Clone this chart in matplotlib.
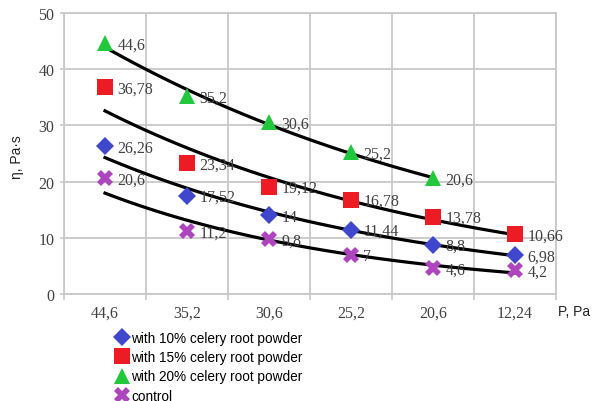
import matplotlib
matplotlib.use('Agg')
import matplotlib.pyplot as plt
import numpy as np

# pressure categories and viscosity values
pressure = ['44,6', '35,2', '30,6', '25,2', '20,6', '12,24']
visc_10 = [26.26, 17.52, 14, 11.44, 8.8, 6.98]
visc_15 = [36.78, 23.34, 19.12, 16.78, 13.78, 10.66]
visc_20 = [44.6, 35.2, 30.6, 25.2, 20.6]
visc_ctrl = [20.6, 11.2, 9.8, 7, 4.6, 4.2]

lbl_10 = ['26,26', '17,52', '14', '11,44', '8,8', '6,98']
lbl_15 = ['36,78', '23,34', '19,12', '16,78', '13,78', '10,66']
lbl_20 = ['44,6', '35,2', '30,6', '25,2', '20,6']
lbl_ctrl = ['20,6', '11,2', '9,8', '7', '4,6', '4,2']

serif = 'Liberation Serif'
sans = 'Liberation Sans'

fig = plt.figure(figsize=(6, 4.02), dpi=100)
ax = fig.add_axes([64/600, 1-295/402, 492/600, 281/402])

series = [
    (visc_10, lbl_10, 'D', '#3F47CC', 9.5, 'with 10% celery root powder'),
    (visc_15, lbl_15, 's', '#ED1C24', 11.5, 'with 15% celery root powder'),
    (visc_20, lbl_20, '^', '#22C83C', 11.5, 'with 20% celery root powder'),
    (visc_ctrl, lbl_ctrl, 'X', '#AE44BE', 11, 'control'),
]

handles = []
for vals, lbls, mk, col, ms, name in series:
    x = np.arange(1, len(vals) + 1)
    # exponential trendline fitted to the points
    b, lna = np.polyfit(x, np.log(vals), 1)
    xs = np.linspace(1, len(vals), 100)
    ax.plot(xs, np.exp(lna + b * xs), '-', color='black', lw=2.3, zorder=3)
    h, = ax.plot(x, vals, linestyle='none', marker=mk, color=col,
                 markersize=ms, markeredgewidth=0, zorder=4, label=name)
    handles.append(h)
    for xi, v, t in zip(x, vals, lbls):
        ax.annotate(t, (xi, v), xytext=(9, -1), textcoords='offset points',
                    va='center', ha='left', fontsize=11.5, family=serif,
                    color='#404040', zorder=5)

ax.set_xlim(0.5, 6.5)
ax.set_ylim(0, 50)
ax.set_yticks(range(0, 51, 10))
ax.set_xticks(range(1, 7))
ax.set_xticklabels(pressure)
ax.set_xticks(np.arange(0.5, 6.6, 1), minor=True)
ax.tick_params(axis='x', which='major', length=0, pad=8)
ax.tick_params(axis='x', which='minor', length=4, color='#C8C8C8', width=1.2)
ax.tick_params(axis='y', length=3, color='#C8C8C8', width=1.2, pad=4)
for t in ax.get_xticklabels() + ax.get_yticklabels():
    t.set_family(serif)
    t.set_fontsize(11.5)
    t.set_color('#404040')
ax.grid(True, which='minor', axis='x', color='#C8C8C8', lw=1.3)
ax.grid(True, which='major', axis='y', color='#C8C8C8', lw=1.3)
ax.set_axisbelow(True)
for s in ax.spines.values():
    s.set_color('#C8C8C8')
    s.set_linewidth(1.3)

fig.text(17/600, 1-157/402, 'η, Pa·s', rotation=90, ha='center', va='center',
         family=sans, fontsize=10, color='#222222')
fig.text(558/600, 1-312/402, 'P, Pa', ha='left', va='center',
         family=sans, fontsize=10, color='#222222')

fig.legend(handles=handles, loc='upper left', bbox_to_anchor=(115/600, 1-332/402),
           frameon=False, prop={'family': sans, 'size': 9.8}, handlelength=1.0,
           handletextpad=0.2, labelspacing=0.38, borderaxespad=0, borderpad=0)

plt.savefig('out.png', dpi=100)
